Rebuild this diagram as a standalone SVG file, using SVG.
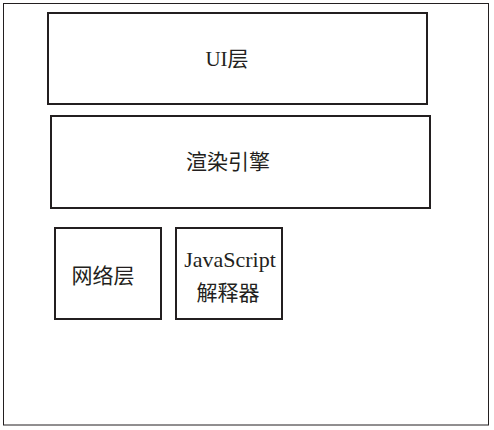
<svg xmlns="http://www.w3.org/2000/svg" width="494" height="430" viewBox="0 0 494 430">
<style>
.box{fill:#fff;stroke:#231f20;stroke-width:2}
.t{font-family:"Liberation Serif","Noto Sans CJK SC",serif;font-size:21px;fill:#231f20;text-anchor:middle}
.en{font-size:22px}
</style>
<rect x="0" y="0" width="494" height="430" fill="#fff"/>
<rect id="frame" x="3.5" y="3.5" width="485" height="421.5" fill="none" stroke="#231f20" stroke-width="1"/>
<g id="ui"><rect class="box" x="48" y="13" width="379" height="91"/><text class="t" x="227" y="66">UI层</text></g>
<g id="render"><rect class="box" x="51" y="116" width="379" height="92"/><text class="t" x="228" y="169">渲染引擎</text></g>
<g id="net"><rect class="box" x="55" y="228" width="106" height="91"/><text class="t" x="103" y="283">网络层</text></g>
<g id="js"><rect class="box" x="176" y="228" width="106" height="91"/><text class="t en" x="230" y="267">JavaScript</text><text class="t" x="228" y="300">解释器</text></g>
<g id="connectors"></g>
</svg>
